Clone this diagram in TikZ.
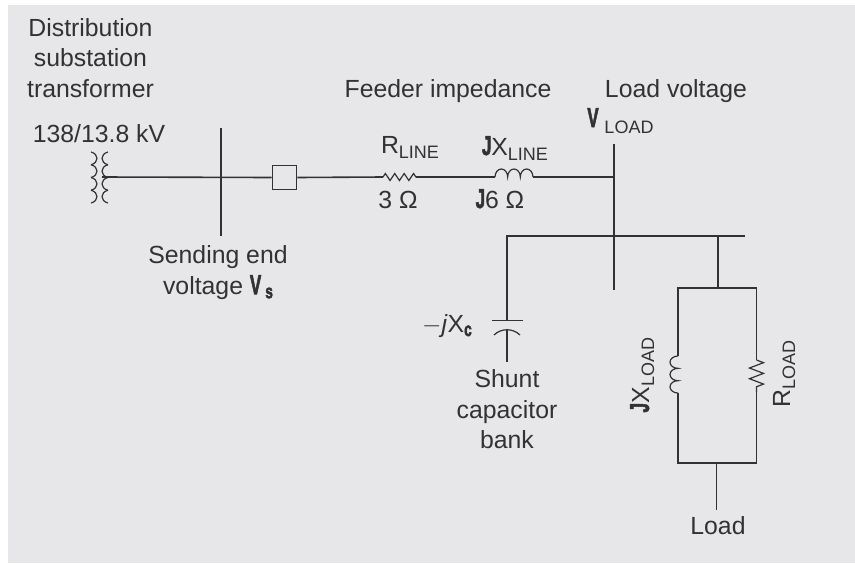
\documentclass[tikz,border=0pt]{standalone}
\usepackage{fontspec}
\setmainfont{Liberation Sans}
\newfontfamily\heavyfont{Liberation Sans}[BoldFeatures={FakeBold=3}]
\usetikzlibrary{
	positioning				% relative placement
	, decorations.pathmorphing	% zigzag for the resistors
	, backgrounds
}
\definecolor{panelgray}{RGB}{231,231,234}
\definecolor{inkgray}{RGB}{50,50,50}
\newcommand{\condbold}[1]{\scalebox{0.68}[1.1]{\heavyfont\bfseries #1}}
\newcommand{\subtxt}[1]{\raisebox{-5pt}{\fontsize{18}{20}\selectfont #1}}
\newcommand{\subbold}[1]{\raisebox{-4pt}{\scalebox{0.8}[1.15]{\fontsize{17}{17}\selectfont\heavyfont\bfseries #1}}}
\tikzset{
	wire/.style={draw=inkgray, line width=1.6pt},
	thinwire/.style={draw=inkgray, line width=1.2pt},
	label/.style={inner sep=0pt, text=inkgray, font=\fontsize{24.8}{30.5}\selectfont, align=center},
	sublabel/.style={inner sep=0pt, text=inkgray, font=\fontsize{18}{20}\selectfont}
}
\begin{document}
\begin{tikzpicture}[x=1pt, y=-1pt]
	\useasboundingbox (0,0) rectangle (855,563);
	\fill[white] (0,0) rectangle (855,563);
	\fill[panelgray] (8,5) rectangle (855,563);

	% Junction points of the one line
	\coordinate (xfmr) at (102,177);
	\coordinate (sendtop) at (221,128);
	\coordinate (sendbot) at (221,236);
	\node[wire, draw, minimum width=24pt, minimum height=24pt, inner sep=0pt] (breaker) at (284.5,177.5) {};
	\coordinate (rline a) at (383,177);
	\coordinate (rline b) at (416,177);
	\coordinate (xline a) at (495,177);
	\coordinate (xline b) at (533,177);
	\coordinate (loadtop) at (614,144);
	\coordinate (loadmid) at (614,177);
	\coordinate (loadbot) at (614,290);
	\coordinate (busleft) at (507,236);
	\coordinate (busright) at (745,236);
	\coordinate (capfeed) at (718,236);
	\coordinate (captop) at (507,320.5);
	\coordinate (capbot) at (507,362);

	% Transformer windings
	\foreach \wx/\dir in {91/1, 108/-1} {
		\foreach \i in {0,1,2,3} {
			\draw[thinwire] (\wx,{152+\i*12.75}) .. controls ({\wx+\dir*8},{154+\i*12.75}) and ({\wx+\dir*8},{162.75+\i*12.75}) .. (\wx,{164.75+\i*12.75});
		}
	}

	% Main feeder
	\draw[wire] (xfmr) -- (breaker.west);
	\draw[wire] (sendtop) -- (sendbot);
	\draw[wire] (breaker.east) -- (rline a);
	\draw[thinwire, decorate, decoration={zigzag, amplitude=3.5pt, segment length=9.4pt}] (rline a) -- (rline b);
	\draw[wire] (rline b) -- (xline a);
	\draw[thinwire] (xline a) arc[start angle=180, end angle=0, x radius=6.33pt, y radius=8pt] arc[start angle=180, end angle=0, x radius=6.33pt, y radius=8pt] arc[start angle=180, end angle=0, x radius=6.33pt, y radius=8pt];
	\draw[wire] (xline b) -- (loadmid);
	\draw[wire] (loadtop) -- (loadbot);

	% Shunt branch and capacitor
	\draw[wire] (captop) -- (busleft) -- (busright);
	\draw[thinwire] (492,320.5) -- (523,320.5);
	\draw[thinwire] (494,335) .. controls (501,328) and (513,328) .. (520,335);
	\draw[wire] (507,330) -- (capbot);

	% Load branch
	\coordinate (loadtl) at (678,288);
	\coordinate (loadtr) at (756.5,288);
	\coordinate (loadbl) at (678,463);
	\coordinate (loadbr) at (756.5,463);
	\draw[wire] (capfeed) -- (718,288);
	\draw[wire] (678,356) -- (loadtl) -- (loadtr) -- (756.5,360);
	\draw[thinwire, decorate, decoration={zigzag, amplitude=7pt, segment length=10.7pt}] (756.5,360) -- (756.5,392);
	\draw[wire] (756.5,392) -- (loadbr) -- (loadbl) -- (678,393);
	\draw[thinwire] (678,356) arc[start angle=90, end angle=270, x radius=8pt, y radius=6.17pt] arc[start angle=90, end angle=270, x radius=8pt, y radius=6.17pt] arc[start angle=90, end angle=270, x radius=8pt, y radius=6.17pt];
	\draw[wire] (716.5,463) -- (716.5,510);

	% Text
	\node[label] (xfmrlabel) at (90.5,58) {Distribution\\substation\\transformer};
	\node[label, anchor=base] (ratinglabel) at (99,142) {138/13.8 kV};
	\node[label, anchor=base] (feederlabel) at (448,97) {Feeder impedance};
	\node[label, anchor=base] (loadvlabel) at (676,97) {Load voltage};
	\node[label, anchor=base] (vload) at (593,127) {\condbold{V}};
	\node[sublabel, anchor=base] (vloadsub) at (629,133) {LOAD};
	\node[label, anchor=base] (rlinelabel) at (410,153) {R\subtxt{LINE}};
	\node[label, anchor=base] (xlinelabel) at (515,155) {\condbold{J}X\subtxt{LINE}};
	\node[label, anchor=base] (rvalue) at (398,208) {3 Ω};
	\node[label, anchor=base] (xvalue) at (500,208) {\condbold{J}6 Ω};
	\node[label] (sendlabel) at (218,272.5) {Sending end\\voltage \condbold{V}\,\subbold{s}};
	\node[label, anchor=base] (xclabel) at (447,332) {$-$\textit{j}X\subbold{c}};
	\node[label] (shuntlabel) at (507,409.5) {Shunt\\capacitor\\bank};
	\node[label, anchor=base, rotate=90] (xloadlabel) at (649,375) {\condbold{J}X\subtxt{LOAD}};
	\node[label, anchor=base, rotate=90] (rloadlabel) at (790,374) {R\subtxt{LOAD}};
	\node[label, anchor=base] (loadlabel) at (718,534) {Load};
\end{tikzpicture}
\end{document}
